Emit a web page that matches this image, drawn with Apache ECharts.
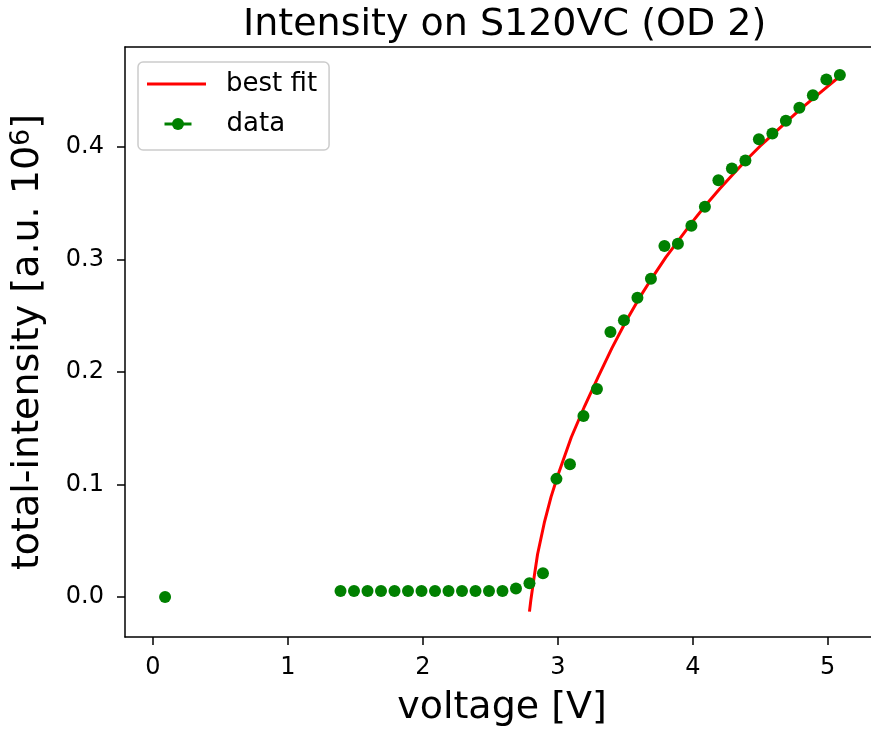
<!DOCTYPE html>
<html>
<head>
<meta charset="utf-8">
<script src="https://cdn.jsdelivr.net/npm/echarts@6/dist/echarts.min.js"></script>
<style>html,body{margin:0;padding:0;background:#fff;}#c{width:871px;height:729px;}</style>
</head>
<body>
<div id="c"></div>
<script>
// measured data
const voltage = [0.09, 1.39, 1.49, 1.59, 1.69, 1.79, 1.89, 1.99, 2.09, 2.19, 2.29, 2.39, 2.49, 2.59, 2.69, 2.79, 2.89,
  2.99, 3.09, 3.19, 3.29, 3.39, 3.49, 3.59, 3.69, 3.79, 3.89, 3.99, 4.09, 4.19, 4.29, 4.39, 4.49, 4.59, 4.69, 4.79, 4.89, 4.99, 5.09];
const intensity = [0.0, 0.0052, 0.0052, 0.0052, 0.0052, 0.0052, 0.0052, 0.0052, 0.0052, 0.0052, 0.0052, 0.0052, 0.0052, 0.0052, 0.0075, 0.0122, 0.021,
  0.105, 0.118, 0.161, 0.185, 0.2355, 0.246, 0.266, 0.283, 0.312, 0.314, 0.330, 0.347, 0.3705, 0.381, 0.388, 0.407, 0.412, 0.4235, 0.435, 0.446, 0.460, 0.464];
// best-fit curve
const fitVoltage = [2.79, 2.80, 2.82, 2.85, 2.90, 2.95, 3.00, 3.10, 3.20, 3.30, 3.40, 3.50, 3.60, 3.70, 3.80, 3.90, 4.00,
  4.10, 4.20, 4.30, 4.40, 4.50, 4.60, 4.70, 4.80, 4.90, 5.00, 5.09];
const fitIntensity = [-0.013, -0.003, 0.014, 0.038, 0.066, 0.089, 0.108, 0.142, 0.170, 0.196, 0.221, 0.244, 0.265, 0.284, 0.302, 0.318, 0.334,
  0.349, 0.363, 0.376, 0.389, 0.401, 0.412, 0.423, 0.434, 0.444, 0.454, 0.463];
const xTicks = [0, 1, 2, 3, 4, 5];
const yTicks = [0, 0.1, 0.2, 0.3, 0.4];

const FONT = 'DejaVu Sans';
const chart = echarts.init(document.getElementById('c'), null, {renderer: 'canvas'});
const zip = (a, b) => a.map((v, i) => [v, b[i]]);
const X_MIN = -0.207, X_MAX = 5.38;
const spine = {show: true, onZero: false, lineStyle: {color: '#000', width: 1.5}};

chart.setOption({
  animation: false,
  backgroundColor: '#ffffff',
  textStyle: {fontFamily: FONT},
  title: {
    text: 'Intensity on S120VC (OD 2)',
    left: 238, top: 1,
    textStyle: {fontFamily: FONT, fontSize: 38, fontWeight: 'normal', color: '#000'}
  },
  grid: {left: 125, right: -8, top: 47, bottom: 92, show: false, outerBoundsMode: 'none', containLabel: false},
  legend: [
    {
      data: ['best fit'], selectedMode: false,
      left: 138, top: 62,
      padding: [9, 12, 53, 9],
      icon: 'rect', itemWidth: 59, itemHeight: 3,
      backgroundColor: 'rgba(255,255,255,0.8)', borderColor: '#cccccc', borderWidth: 1.5, borderRadius: 5,
      textStyle: {fontFamily: FONT, fontSize: 26, color: '#000', padding: [0, 0, 0, 15]},
      z: 4
    },
    {
      data: ['data'], selectedMode: false,
      left: 163, top: 111, padding: 0,
      itemWidth: 27, itemHeight: 15,
      lineStyle: {width: 3, color: '#008000', opacity: 1},
      textStyle: {fontFamily: FONT, fontSize: 26, color: '#000', padding: [0, 0, 0, 30]},
      z: 6
    }
  ],
  xAxis: [
    {
      type: 'value', position: 'bottom', min: X_MIN, max: X_MAX,
      name: 'voltage [V]', nameLocation: 'middle', nameGap: 52,
      nameTextStyle: {fontFamily: FONT, fontSize: 38, color: '#000'},
      axisLine: spine,
      axisTick: {show: true, length: 8, lineStyle: {color: '#000', width: 1.5}, customValues: xTicks},
      axisLabel: {customValues: xTicks, fontFamily: FONT, fontSize: 24, color: '#000', margin: 19, formatter: v => String(v)},
      splitLine: {show: false}
    },
    {
      type: 'value', position: 'top', min: X_MIN, max: X_MAX,
      axisLine: spine, axisTick: {show: false}, axisLabel: {show: false}, splitLine: {show: false}
    }
  ],
  yAxis: {
    type: 'value', min: -0.0356, max: 0.489,
    name: 'total-intensity [a.u. 10{sup|6}]', nameLocation: 'middle', nameGap: 76, nameRotate: 90,
    nameTextStyle: {fontFamily: FONT, fontSize: 38, color: '#000',
      rich: {sup: {fontFamily: FONT, fontSize: 27, color: '#000', verticalAlign: 'top', padding: [0, 0, 14, 0]}}},
    axisLine: spine,
    axisTick: {show: true, length: 8, lineStyle: {color: '#000', width: 1.5}, customValues: yTicks},
    axisLabel: {customValues: yTicks, fontFamily: FONT, fontSize: 24, color: '#000', margin: 21, formatter: v => v.toFixed(1)},
    splitLine: {show: false}
  },
  series: [
    {
      name: 'best fit', type: 'line', data: zip(fitVoltage, fitIntensity),
      symbol: 'none', smooth: false,
      lineStyle: {color: '#ff0000', width: 3}, itemStyle: {color: '#ff0000'}, z: 2
    },
    {
      name: 'data', type: 'line', data: zip(voltage, intensity),
      symbol: 'circle', symbolSize: 12, showSymbol: true, showAllSymbol: true,
      lineStyle: {width: 0, opacity: 0}, itemStyle: {color: '#008000'}, z: 3
    }
  ]
});
</script>
</body>
</html>
